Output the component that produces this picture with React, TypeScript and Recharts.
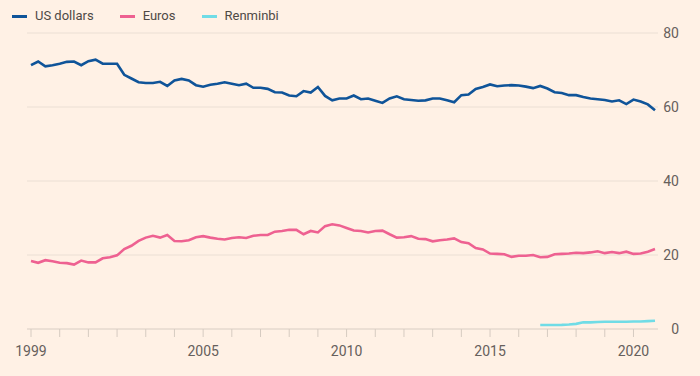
import { LineChart, Line, XAxis, YAxis, CartesianGrid } from 'recharts'

// quarterly shares of allocated reserves, 1999 Q1 – 2020 Q4 (%)
const startYear = 1999
const usDollars = [
  71.3, 72.3, 71.0, 71.3, 71.7, 72.2, 72.3, 71.3, 72.4, 72.8, 71.7, 71.7,
  71.7, 68.7, 67.7, 66.7, 66.5, 66.5, 66.8, 65.7, 67.2, 67.6, 67.2, 65.9,
  65.5, 66.0, 66.3, 66.7, 66.3, 65.9, 66.3, 65.2, 65.2, 64.9, 64.0, 63.9,
  63.1, 62.9, 64.3, 63.9, 65.4, 63.0, 61.8, 62.3, 62.3, 63.1, 62.1, 62.3,
  61.7, 61.1, 62.3, 62.9, 62.1, 61.9, 61.7, 61.8, 62.3, 62.3, 61.8, 61.3,
  63.2, 63.4, 64.9, 65.4, 66.1, 65.6, 65.8, 65.9, 65.8, 65.5, 65.1, 65.7,
  65.0, 64.0, 63.8, 63.2, 63.2, 62.7, 62.3, 62.1, 61.9, 61.5, 61.8, 60.8,
  62.0, 61.5, 60.7, 59.1,
]
const euros = [
  18.4, 17.9, 18.6, 18.3, 17.9, 17.8, 17.4, 18.5, 18.0, 18.0, 19.1, 19.4,
  19.9, 21.6, 22.5, 23.8, 24.7, 25.2, 24.7, 25.4, 23.8, 23.7, 24.0, 24.8,
  25.1, 24.7, 24.4, 24.2, 24.6, 24.8, 24.6, 25.2, 25.4, 25.4, 26.3, 26.5,
  26.8, 26.8, 25.6, 26.5, 26.1, 27.8, 28.3, 28.0, 27.3, 26.6, 26.5, 26.1,
  26.5, 26.6, 25.6, 24.7, 24.8, 25.1, 24.4, 24.3, 23.7, 24.0, 24.2, 24.5,
  23.5, 23.2, 21.9, 21.5, 20.4, 20.3, 20.2, 19.5, 19.8, 19.8, 20.0, 19.4,
  19.5, 20.2, 20.3, 20.4, 20.6, 20.5, 20.7, 21.0, 20.5, 20.8, 20.5, 20.9,
  20.3, 20.4, 20.9, 21.6,
]
// reported from 2016 Q4 only
const renminbiStart = 71
const renminbi = [
  1.08, 1.07, 1.08, 1.12, 1.23, 1.39, 1.84, 1.8, 1.89, 1.95, 1.97, 1.95,
  1.94, 2.02, 2.04, 2.13, 2.25,
]
const yearTicks = [
  1999, 2000, 2001, 2002, 2003, 2004, 2005, 2006, 2007, 2008, 2009, 2010,
  2011, 2012, 2013, 2014, 2015, 2016, 2017, 2018, 2019, 2020,
]
const labelledYears = [1999, 2005, 2010, 2015, 2020]
const valueTicks = [0, 20, 40, 60, 80]

const data = usDollars.map((usd, i) => ({
  t: startYear + i / 4,
  usd,
  eur: euros[i],
  rmb: i >= renminbiStart ? renminbi[i - renminbiStart] : null,
}))

const series = [
  { key: 'usd', name: 'US dollars', color: '#0f5499' },
  { key: 'eur', name: 'Euros', color: '#ee6191' },
  { key: 'rmb', name: 'Renminbi', color: '#70dce6' },
]

const font = 'Roboto, "Noto Sans", sans-serif'

function ValueTick({ x, y, payload }: any) {
  return (
    <text x={x + 13} y={y} dy="0.355em" textAnchor="end" fill="#66605c" fontSize={14} fontFamily={font}>
      {payload.value}
    </text>
  )
}

export default function App() {
  return (
    <div style={{ position: 'relative', width: 700, height: 376, background: '#fff1e5', fontFamily: font }}>
      <style>{`body{margin:0}`}</style>
      <div style={{ position: 'absolute', top: 7, left: 12, display: 'flex', fontSize: 13, color: '#4e4945' }}>
        {series.map((s) => (
          <div key={s.key} style={{ display: 'flex', alignItems: 'center', marginRight: 26 }}>
            <span style={{ display: 'inline-block', width: 15, height: 3, background: s.color, marginRight: 8 }} />
            <span style={{ lineHeight: '18px' }}>{s.name}</span>
          </div>
        ))}
      </div>
      <LineChart width={700} height={376} data={data} margin={{ top: 33, right: 0, bottom: 0, left: 27 }}>
        <CartesianGrid vertical={false} stroke="#ebdfd4" strokeWidth={1} />
        <XAxis
          dataKey="t"
          type="number"
          domain={[1999, 2020.75]}
          ticks={yearTicks}
          padding={{ left: 4, right: 3 }}
          height={47}
          stroke="#e2d6cb"
          tickSize={8}
          tickMargin={9}
          tickLine={{ stroke: '#d6cbc1' }}
          tick={{ fill: '#66605c', fontSize: 14, fontFamily: font }}
          tickFormatter={(v) => (labelledYears.includes(v) ? String(v) : '')}
          interval={0}
        />
        <YAxis
          orientation="right"
          domain={[0, 80]}
          ticks={valueTicks}
          width={42}
          axisLine={false}
          tickLine={false}
          tick={<ValueTick />}
        />
        {series.map((s) => (
          <Line
            key={s.key}
            dataKey={s.key}
            type="linear"
            stroke={s.color}
            strokeWidth={2.6}
            dot={false}
            isAnimationActive={false}
          />
        ))}
      </LineChart>
    </div>
  )
}
